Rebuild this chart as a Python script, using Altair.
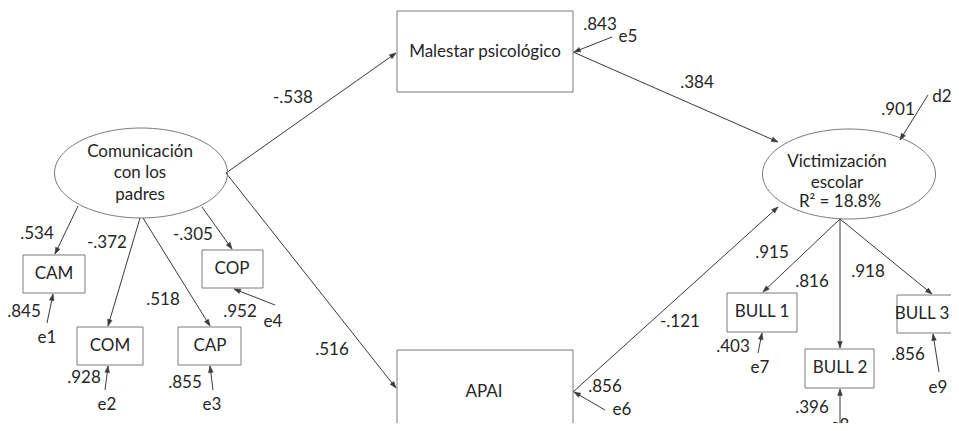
import altair as alt
import numpy as np
import pandas as pd

# ---------------- content ----------------
box_names = ["Malestar psicológico", "APAI", "CAM", "COM", "CAP", "COP",
             "BULL 1", "BULL 2", "BULL 3"]
latent_lines = ["Comunicación", "con los", "padres",
                "Victimización", "escolar", "R² = 18.8%"]
path_coefs = ["-.538", ".516", ".384", "-.121"]
loading_coefs = [".534", "-.372", ".518", "-.305", ".915", ".816", ".918"]
error_names = ["e1", "e2", "e3", "e4", "e5", "e6", "e7", "e8", "e9", "d2"]
error_coefs = [".845", ".928", ".855", ".952", ".843", ".856", ".403", ".396", ".856", ".901"]

# ---------------- layout (pixel positions of the diagram) ----------------
box_x1 = [397, 397, 23, 77, 178, 202, 727, 805, 897]
box_x2 = [573, 573, 85, 143, 241, 263, 797, 874, 958]
box_y1 = [11, 350, 255, 327, 327, 250, 293, 349, 295]
box_y2 = [92, 445, 293, 365, 365, 288, 332, 388, 333]
box_tx = [485, 484, 54, 110, 210, 232, 762, 840, 922]
box_ty = [52, 392, 274, 346, 346, 269, 312, 368, 314]

ell_cx = [141, 849]
ell_cy = [173, 174]
latent_tx = [140, 140, 140, 837, 837, 840]
latent_ty = [152, 173, 195, 162, 183, 202]

# structural paths: start and end points
path_x1 = [226, 226, 573, 573]
path_y1 = [173, 173, 52, 392]
path_x2 = [396, 396, 778, 778]
path_y2 = [53, 388, 142, 207]
path_lx = [293, 332, 697, 680]
path_ly = [98, 350, 83, 322]

# loadings
load_x1 = [78, 140, 143, 202, 840, 840, 840]
load_y1 = [206, 218, 218, 207, 219, 219, 219]
load_x2 = [55, 108, 210, 232, 763, 840, 932]
load_y2 = [254, 326, 326, 249, 292, 348, 294]
load_lx = [37, 107, 163, 193, 772, 812, 868]
load_ly = [234, 243, 300, 235, 253, 282, 272]

# error terms
err_x1 = [47, 105, 213, 275, 612, 605, 758, 840, 939, 928]
err_y1 = [323, 390, 390, 305, 37, 410, 353, 423, 372, 95]
err_x2 = [53, 108, 210, 234, 574, 574, 762, 840, 933, 900]
err_y2 = [294, 366, 366, 289, 52, 392, 333, 389, 334, 140]
err_nx = [47, 107, 212, 273, 628, 622, 760, 840, 938, 942]
err_ny = [338, 405, 405, 322, 37, 410, 368, 426, 388, 97]
err_cx = [24, 84, 185, 240, 600, 605, 733, 812, 908, 898]
err_cy = [312, 378, 383, 312, 25, 387, 347, 408, 355, 110]

# ---------------- tables ----------------
boxes = pd.DataFrame({"name": box_names, "x": box_x1, "x2": box_x2,
                      "y": box_y1, "y2": box_y2, "tx": box_tx, "ty": box_ty})
ellipses = pd.DataFrame({"x": ell_cx, "y": ell_cy})
edges = pd.DataFrame({
    "x": path_x1 + load_x1 + err_x1,
    "y": path_y1 + load_y1 + err_y1,
    "x2": path_x2 + load_x2 + err_x2,
    "y2": path_y2 + load_y2 + err_y2,
})
labels = pd.DataFrame({
    "text": box_names + latent_lines + path_coefs + loading_coefs + error_names + error_coefs,
    "x": box_tx + latent_tx + path_lx + load_lx + err_nx + err_cx,
    "y": box_ty + latent_ty + path_ly + load_ly + err_ny + err_cy,
})

# ---------------- scales (reference pixels -> page pixels) ----------------
W, H = 943, 415
xs = alt.Scale(domain=[8, 8 + W], nice=False, zero=False)
ys = alt.Scale(domain=[8, 8 + H], nice=False, zero=False, reverse=True)

LINE = "#3a3a3a"
BORDER = "#7a7a7a"
FONT = "Lato"

# ellipse outline as a custom symbol path (unit radius in x)
rx, ry = 86.5, 45.0
t = np.linspace(0, 2 * np.pi, 97)[:-1]
ell_path = "M" + "L".join(f"{np.cos(a):.4f},{(ry / rx) * np.sin(a):.4f}" for a in t) + "Z"
ell_size = (2 * rx) ** 2

# arrowhead: tip at origin, pointing up
head_path = "M0,0L-0.36,1L0.36,1Z"
head_size = 13 ** 2

rules = alt.Chart(edges).mark_rule(color=LINE, strokeWidth=1).encode(
    x=alt.X("x:Q", scale=xs, axis=None),
    y=alt.Y("y:Q", scale=ys, axis=None),
    x2="x2:Q", y2="y2:Q",
)

rects = alt.Chart(boxes).mark_rect(fill="white", stroke=BORDER, strokeWidth=1).encode(
    x=alt.X("x:Q", scale=xs, axis=None),
    y=alt.Y("y:Q", scale=ys, axis=None),
    x2="x2:Q", y2="y2:Q",
)

ells = alt.Chart(ellipses).mark_point(
    shape=ell_path, size=ell_size, filled=False, stroke=BORDER, strokeWidth=1, opacity=1
).encode(
    x=alt.X("x:Q", scale=xs, axis=None),
    y=alt.Y("y:Q", scale=ys, axis=None),
)

heads = alt.Chart(edges).transform_calculate(
    ang="(atan2(datum.x2 - datum.x, datum.y - datum.y2) * 180 / PI + 360) % 360"
).mark_point(
    shape=head_path, size=head_size, filled=True, fill=LINE, stroke=LINE,
    strokeWidth=0.5, opacity=1
).encode(
    x=alt.X("x2:Q", scale=xs, axis=None),
    y=alt.Y("y2:Q", scale=ys, axis=None),
    angle=alt.Angle("ang:Q", scale=None),
)

texts = alt.Chart(labels).mark_text(
    font=FONT, fontSize=17, color="#262626", align="center", baseline="middle"
).encode(
    x=alt.X("x:Q", scale=xs, axis=None),
    y=alt.Y("y:Q", scale=ys, axis=None),
    text="text:N",
)

chart = alt.layer(rules, rects, ells, heads, texts).properties(
    width=W, height=H,
    autosize=alt.AutoSizeParams(type="none"),
    padding=0,
    background="white",
).configure_view(strokeWidth=0)

chart.save("out.html", embed_options={"renderer": "svg", "actions": False})
